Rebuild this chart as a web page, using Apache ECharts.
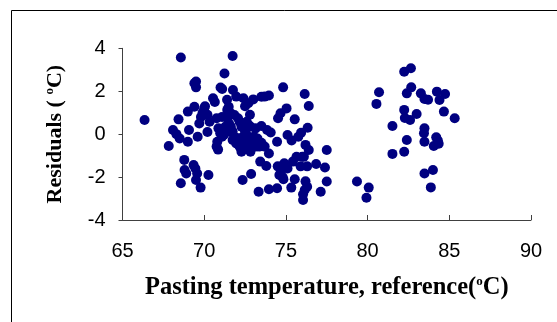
<!DOCTYPE html>
<html>
<head>
<meta charset="utf-8">
<script src="https://cdn.jsdelivr.net/npm/echarts@6/dist/echarts.min.js"></script>
<style>
html,body{margin:0;padding:0;background:#fff;}
#c{width:557px;height:322px;}
</style>
</head>
<body>
<div id="c"></div>
<script>
// Pasting temperature, reference (°C)
var xValues = [
66.35,67.83,68.09,68.3,68.5,68.43,68.57,68.57,68.78,68.8,68.9,69.0,69.0,69.07,69.35,69.46,69.4,69.4,69.5,69.5,
69.57,69.5,69.78,69.7,69.8,69.6,69.9,70.0,70.05,70.26,70.2,70.33,70.2,70.54,70.65,70.76,70.76,70.8,70.85,70.87,
71.0,71.1,71.24,71.4,71.5,71.74,71.76,71.96,72.4,72.5,72.7,72.8,73.0,73.5,73.7,73.96,72.87,72.35,73.33,73.43,
73.8,73.96,73.5,73.85,74.07,73.7,73.96,73.5,74.46,74.46,74.52,74.67,74.83,75.04,75.1,74.5,74.7,74.8,74.6,74.85,
74.9,75.1,75.43,75.65,75.54,75.33,75.54,75.76,75.35,75.93,76.0,76.1,75.9,76.15,76.33,76.4,76.2,76.4,76.3,76.2,
76.3,76.15,76.05,76.05,76.85,77.13,77.39,77.5,77.5,77.76,
71.41,71.52,71.63,71.74,71.85,71.96,71.85,72.07,72.17,72.28,72.5,72.72,72.93,73.15,71.63,70.98,71.09,71.2,71.74,72.07,
72.17,72.28,72.5,72.6,72.83,72.93,72.72,72.83,73.04,73.26,73.37,71.3,71.52,72.39,72.6,73.15,71.41,71.09,
79.35,80.07,79.93,80.54,80.7,81.52,81.52,82.24,82.65,82.4,82.67,82.24,82.28,82.6,82.4,82.24,83.0,83.26,83.48,83.7,
83.48,83.45,83.48,83.48,84.0,83.87,84.05,84.2,84.3,84.35,84.24,84.4,84.74,84.67,85.33
];
// Residuals (°C)
var yValues = [
0.66,-0.55,0.19,0.0,-0.2,0.69,3.57,-2.29,-1.2,-1.67,-1.83,1.05,-0.35,0.19,-1.44,-1.6,1.28,2.37,2.45,2.18,
-1.83,-2.14,-2.49,0.5,0.8,-0.12,1.0,1.2,1.3,-1.9,0.1,0.58,0.9,1.67,1.5,0.74,-0.58,-0.35,-0.72,0.27,
2.17,2.1,2.83,1.6,1.28,3.64,2.06,1.75,1.67,1.3,1.44,0.9,1.62,1.74,1.75,1.8,-1.86,-2.14,-2.68,-1.28,
-1.48,-2.57,0.38,0.19,0.08,-0.58,-0.9,-0.4,-2.52,-0.35,0.74,0.97,2.18,1.2,-0.04,-1.5,-1.7,-2.0,-1.9,-2.1,
-1.36,-1.6,-1.28,-1.05,-2.1,-2.49,0.69,-0.12,-0.3,0.07,-1.05,-1.05,-1.5,1.87,0.3,1.31,-0.5,-0.74,-1.5,-2.2,
-2.45,-2.6,-2.8,-3.07,-1.39,-2.68,-1.55,-0.74,-2.21,4.03,
0.74,0.5,0.35,0.12,-0.12,-0.43,0.89,0.74,0.58,0.35,0.12,-0.12,-0.35,-0.58,0.97,0.04,-0.12,-0.04,-0.27,-0.19,
-0.58,-0.82,-0.43,-0.66,-0.82,-0.58,0.43,0.35,-0.12,-0.2,-0.58,0.35,0.12,-0.12,0.58,0.27,1.13,0.8,
-2.21,-2.49,-2.96,1.41,1.95,0.38,-0.92,2.91,3.07,1.9,2.18,1.13,0.75,0.66,-0.27,-0.82,0.94,1.9,1.64,1.6,
0.27,0.04,-0.35,-1.83,-1.67,-2.48,-0.55,-0.15,-0.3,-0.45,1.98,1.59,1.87,1.05,0.74
];
var xTicks = [65, 70, 75, 80, 85, 90];
var yTicks = [-4, -2, 0, 2, 4];

var points = xValues.map(function (x, i) { return [x, yValues[i]]; });

var chart = echarts.init(document.getElementById('c'), null, {renderer: 'canvas'});
var axisColor = '#404040';
var serif = '"Liberation Serif", "Times New Roman", serif';
var sans = '"Liberation Sans", Arial, sans-serif';
chart.setOption({
  animation: false,
  backgroundColor: '#fff',
  graphic: [{
    type: 'rect',
    shape: {x: 11.5, y: 10.5, width: 700, height: 400},
    style: {fill: 'none', stroke: '#000', lineWidth: 1},
    silent: true,
    z: -1
  }],
  grid: {left: 122.5, right: 26, top: 48.3, bottom: 102, containLabel: false},
  xAxis: {
    type: 'value',
    min: xTicks[0], max: xTicks[xTicks.length - 1], interval: 5,
    splitLine: {show: false},
    axisLine: {show: true, onZero: false, lineStyle: {color: axisColor, width: 1}},
    axisTick: {show: true, inside: true, length: 5, lineStyle: {color: axisColor}},
    axisLabel: {color: '#000', fontFamily: sans, fontSize: 20, margin: 21},
    name: '{a|Pasting temperature, reference(}{s|o}{a|C)}',
    nameLocation: 'middle',
    nameGap: 55,
    nameTextStyle: {
      rich: {
        a: {fontFamily: serif, fontWeight: 'bold', fontSize: 24.5, color: '#000'},
        s: {fontFamily: serif, fontWeight: 'bold', fontSize: 13, color: '#000', verticalAlign: 'top', padding: [0, 0, 11, 0]}
      }
    }
  },
  yAxis: {
    type: 'value',
    min: yTicks[0], max: yTicks[yTicks.length - 1], interval: 2,
    splitLine: {show: false},
    axisLine: {show: true, onZero: false, lineStyle: {color: axisColor, width: 1}},
    axisTick: {show: true, inside: false, length: 4, lineStyle: {color: axisColor}},
    axisLabel: {color: '#000', fontFamily: sans, fontSize: 20, margin: 17},
    name: '{a|Residuals ( }{s|o}{a|C)}',
    nameLocation: 'middle',
    nameGap: 55,
    nameRotate: 90,
    nameTextStyle: {
      rich: {
        a: {fontFamily: serif, fontWeight: 'bold', fontSize: 22, color: '#000'},
        s: {fontFamily: serif, fontWeight: 'bold', fontSize: 13, color: '#000', verticalAlign: 'top', padding: [0, 0, 11, 0]}
      }
    }
  },
  series: [{
    type: 'scatter',
    data: points,
    symbol: 'circle',
    symbolSize: 10,
    itemStyle: {color: '#000080', opacity: 1},
    silent: true
  }]
});
</script>
</body>
</html>
